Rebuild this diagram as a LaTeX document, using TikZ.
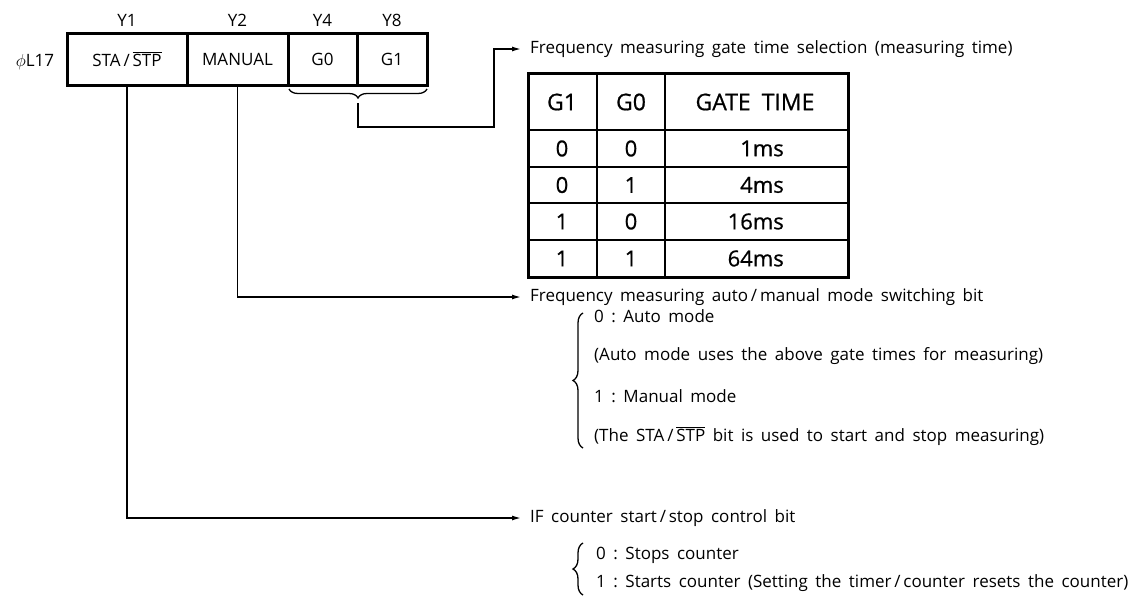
\documentclass[tikz,border=0pt]{standalone}
\usepackage{fontspec}
\setmainfont{Open Sans}[WordSpace=1.7]
\newfontfamily\tabfont{Open Sans}[FakeBold=0.7]
\usetikzlibrary{arrows.meta,decorations.pathreplacing}

\newcommand{\stabar}{STA\,/\,$\overline{\mbox{STP}}$}

\begin{document}
\begin{tikzpicture}[x=1pt,y=-1pt,>={Latex[length=9pt,width=5pt]},
  font=\fontsize{17}{20}\selectfont,
  cell/.style={draw, line width=3pt, minimum height=52pt, inner sep=0pt},
  note/.style={anchor=west, inner sep=0pt},
  conn/.style={line width=1.4pt},
  curly/.style={line width=1.3pt, decorate, decoration={brace, amplitude=#1}},
  head/.style={font=\tabfont\fontsize{23}{27}\selectfont, inner sep=0pt},
  entry/.style={font=\tabfont\fontsize{22}{26}\selectfont, inner sep=0pt}]
  \useasboundingbox (0,0) rectangle (1138,597);

  % register
  \node[cell, minimum width=120pt] (sta) at (127,59) {\stabar};
  \node[cell, minimum width=101pt] (manual) at (237.5,59) {MANUAL};
  \node[cell, minimum width=69pt] (gzero) at (322.5,59) {G0};
  \node[cell, minimum width=70pt] (gone) at (392,59) {G1};
  \node (yone) at (127,20) {Y1};
  \node (ytwo) at (237.5,20) {Y2};
  \node (yfour) at (322.5,20) {Y4};
  \node (yeight) at (392,20) {Y8};
  \node (reg) at (35,62) {$\phi$L17};

  % gate time bits
  \draw[curly=9pt] (427,89) -- (289,89) coordinate[midway, yshift=-14pt] (gtip);
  \coordinate (gbend) at (494,127);
  \node[note] (gatetxt) at (530,49) {Frequency measuring gate time selection (measuring time)};
  \draw[conn, ->, shorten >=9pt] (gtip) |- (gbend) |- (gatetxt.west);

  % table
  \draw[line width=3pt] (528,73) rectangle (848,277);
  \draw[line width=2.2pt] (528,130) -- (848,130);
  \draw[line width=1.2pt] (528,167) -- (848,167);
  \draw[line width=1.2pt] (528,203) -- (848,203);
  \draw[line width=1.2pt] (528,240) -- (848,240);
  \draw[line width=1.5pt] (597,73) -- (597,277);
  \draw[line width=1.5pt] (665,73) -- (665,277);
  \node[head] (hone) at (562,102) {G1};
  \node[head] (hzero) at (631,102) {G0};
  \node[head] (htime) at (755,102) {GATE\hspace{11pt}TIME};
  \node[entry] (a1) at (562,148.5) {0};
  \node[entry] (a0) at (631,148.5) {0};
  \node[entry, anchor=east] (at) at (784,148.5) {1ms};
  \node[entry] (b1) at (562,185) {0};
  \node[entry] (b0) at (631,185) {1};
  \node[entry, anchor=east] (bt) at (784,185) {4ms};
  \node[entry] (c1) at (562,221.5) {1};
  \node[entry] (c0) at (631,221.5) {0};
  \node[entry, anchor=east] (ct) at (784,221.5) {16ms};
  \node[entry] (d1) at (562,258.5) {1};
  \node[entry] (d0) at (631,258.5) {1};
  \node[entry, anchor=east] (dt) at (784,258.5) {64ms};

  % manual bit
  \node[note] (autotxt) at (530,297) {Frequency measuring auto\,/\,manual mode switching bit};
  \draw[conn, ->, shorten >=9pt] (manual.south) |- (autotxt.west);
  \draw[curly=10pt] (583,448) -- (583,313);
  \node[note] (mzero) at (594,316) {0\ :\ Auto mode};
  \node[note] (mzeronote) at (594,356) {(Auto mode uses the above gate times for measuring)};
  \node[note] (mone) at (594,396) {1\ :\ Manual mode};
  \node[note] (monenote) at (594,436) {(The \stabar{} bit is used to start and stop measuring)};

  % start/stop bit
  \node[note] (iftxt) at (530,518) {IF counter start\,/\,stop control bit};
  \draw[conn, ->, shorten >=9pt] (sta.south) |- (iftxt.west);
  \draw[curly=10pt] (583,595) -- (583,543);
  \node[note] (szero) at (596,555) {0\ :\ Stops counter};
  \node[note] (sone) at (596,583) {1\ :\ Starts counter (Setting the timer\,/\,counter resets the counter)};
\end{tikzpicture}
\end{document}
